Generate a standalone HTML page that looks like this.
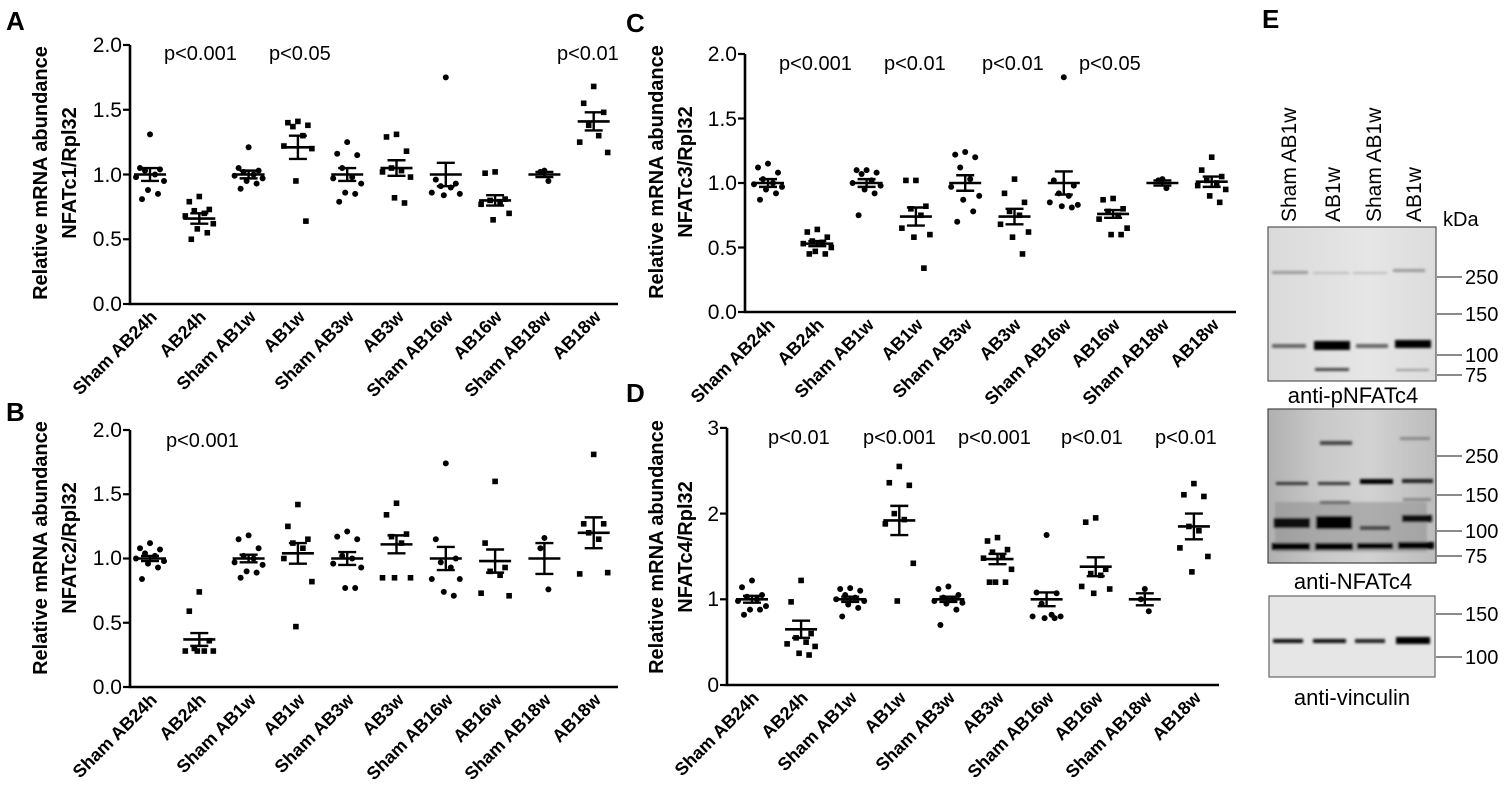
<!DOCTYPE html>
<html><head><meta charset="utf-8">
<style>
html,body{margin:0;padding:0;background:#fff;}
svg{display:block;}
text{font-family:"Liberation Sans",Arial,sans-serif;fill:#000;}
.pl{font-size:26px;font-weight:bold;}
.yl{font-size:20px;font-weight:bold;}
.tk{font-size:21px;}
.xl{font-size:18px;font-weight:bold;}
.pv{font-size:20px;}
.bl{font-size:21px;}
.mk{font-size:20px;}
.cap{font-size:22px;}
</style></head>
<body>
<svg id="s" width="1505" height="791" viewBox="0 0 1505 791" xmlns="http://www.w3.org/2000/svg">
<defs>
<filter id="bf" x="-10%" y="-200%" width="120%" height="500%"><feGaussianBlur stdDeviation="1.3"/></filter>
<linearGradient id="g2" x1="0" y1="0" x2="1" y2="0">
<stop offset="0" stop-color="#b0b0b0"/><stop offset="0.3" stop-color="#c8c8c8"/><stop offset="0.6" stop-color="#d2d2d2"/><stop offset="1" stop-color="#bcbcbc"/></linearGradient>
<linearGradient id="g1" x1="0" y1="0" x2="1" y2="0">
<stop offset="0" stop-color="#dadada"/><stop offset="0.6" stop-color="#e6e6e6"/><stop offset="1" stop-color="#dcdcdc"/></linearGradient>
</defs>
<g id="plots"></g>

<text class="pl" x="6" y="30">A</text>
<text class="pl" x="6" y="421">B</text>
<text class="pl" x="626" y="32">C</text>
<text class="pl" x="626" y="402">D</text>
<text class="pl" x="1262" y="28">E</text>

<g transform="translate(47,173) rotate(-90)"><text class="yl" text-anchor="middle" x="0" y="0">Relative mRNA abundance</text><text class="yl" text-anchor="middle" x="0" y="29">NFATc1/Rpl32</text></g>
<g transform="translate(47,548) rotate(-90)"><text class="yl" text-anchor="middle" x="0" y="0">Relative mRNA abundance</text><text class="yl" text-anchor="middle" x="0" y="29">NFATc2/Rpl32</text></g>
<g transform="translate(663,172) rotate(-90)"><text class="yl" text-anchor="middle" x="0" y="0">Relative mRNA abundance</text><text class="yl" text-anchor="middle" x="0" y="29">NFATc3/Rpl32</text></g>
<g transform="translate(663,547) rotate(-90)"><text class="yl" text-anchor="middle" x="0" y="0">Relative mRNA abundance</text><text class="yl" text-anchor="middle" x="0" y="29">NFATc4/Rpl32</text></g>

<g class="tk" text-anchor="end">
<text x="122" y="52">2.0</text><text x="122" y="117">1.5</text><text x="122" y="182">1.0</text><text x="122" y="246">0.5</text><text x="122" y="311">0.0</text>
<text x="122" y="437">2.0</text><text x="122" y="501">1.5</text><text x="122" y="565">1.0</text><text x="122" y="630">0.5</text><text x="122" y="694">0.0</text>
<text x="737" y="61">2.0</text><text x="737" y="126">1.5</text><text x="737" y="190">1.0</text><text x="737" y="255">0.5</text><text x="737" y="319">0.0</text>
<text x="719" y="435">3</text><text x="719" y="521">2</text><text x="719" y="606">1</text><text x="719" y="692">0</text>
</g>

<g class="pv">
<text x="164" y="60">p&lt;0.001</text><text x="269" y="60">p&lt;0.05</text><text x="557" y="60">p&lt;0.01</text>
<text x="166" y="447">p&lt;0.001</text>
<text x="779" y="70">p&lt;0.001</text><text x="884" y="70">p&lt;0.01</text><text x="982" y="70">p&lt;0.01</text><text x="1079" y="70">p&lt;0.05</text>
<text x="768" y="444">p&lt;0.01</text><text x="863" y="444">p&lt;0.001</text><text x="958" y="444">p&lt;0.001</text><text x="1061" y="444">p&lt;0.01</text><text x="1155" y="444">p&lt;0.01</text>
</g>

<g class="xl" text-anchor="end">
<text transform="translate(158,318) rotate(-45)">Sham AB24h</text>
<text transform="translate(207,318) rotate(-45)">AB24h</text>
<text transform="translate(257,318) rotate(-45)">Sham AB1w</text>
<text transform="translate(306,318) rotate(-45)">AB1w</text>
<text transform="translate(355,318) rotate(-45)">Sham AB3w</text>
<text transform="translate(405,318) rotate(-45)">AB3w</text>
<text transform="translate(454,318) rotate(-45)">Sham AB16w</text>
<text transform="translate(503,318) rotate(-45)">AB16w</text>
<text transform="translate(552,318) rotate(-45)">Sham AB18w</text>
<text transform="translate(602,318) rotate(-45)">AB18w</text>

<text transform="translate(158,701) rotate(-45)">Sham AB24h</text>
<text transform="translate(207,701) rotate(-45)">AB24h</text>
<text transform="translate(257,701) rotate(-45)">Sham AB1w</text>
<text transform="translate(306,701) rotate(-45)">AB1w</text>
<text transform="translate(355,701) rotate(-45)">Sham AB3w</text>
<text transform="translate(405,701) rotate(-45)">AB3w</text>
<text transform="translate(454,701) rotate(-45)">Sham AB16w</text>
<text transform="translate(503,701) rotate(-45)">AB16w</text>
<text transform="translate(552,701) rotate(-45)">Sham AB18w</text>
<text transform="translate(602,701) rotate(-45)">AB18w</text>

<text transform="translate(776,326) rotate(-45)">Sham AB24h</text>
<text transform="translate(825,326) rotate(-45)">AB24h</text>
<text transform="translate(875,326) rotate(-45)">Sham AB1w</text>
<text transform="translate(924,326) rotate(-45)">AB1w</text>
<text transform="translate(973,326) rotate(-45)">Sham AB3w</text>
<text transform="translate(1022,326) rotate(-45)">AB3w</text>
<text transform="translate(1072,326) rotate(-45)">Sham AB16w</text>
<text transform="translate(1121,326) rotate(-45)">AB16w</text>
<text transform="translate(1170,326) rotate(-45)">Sham AB18w</text>
<text transform="translate(1220,326) rotate(-45)">AB18w</text>

<text transform="translate(760,699) rotate(-45)">Sham AB24h</text>
<text transform="translate(809,699) rotate(-45)">AB24h</text>
<text transform="translate(858,699) rotate(-45)">Sham AB1w</text>
<text transform="translate(907,699) rotate(-45)">AB1w</text>
<text transform="translate(956,699) rotate(-45)">Sham AB3w</text>
<text transform="translate(1005,699) rotate(-45)">AB3w</text>
<text transform="translate(1055,699) rotate(-45)">Sham AB16w</text>
<text transform="translate(1104,699) rotate(-45)">AB16w</text>
<text transform="translate(1153,699) rotate(-45)">Sham AB18w</text>
<text transform="translate(1202,699) rotate(-45)">AB18w</text>
</g>

<g class="bl">
<text transform="translate(1296,222) rotate(-90)">Sham AB1w</text>
<text transform="translate(1340,222) rotate(-90)">AB1w</text>
<text transform="translate(1381,222) rotate(-90)">Sham AB1w</text>
<text transform="translate(1421,222) rotate(-90)">AB1w</text>
</g>
<text class="mk" x="1443" y="226">kDa</text>

<rect x="1268" y="227" width="168" height="154" fill="url(#g1)" stroke="#555" stroke-width="1.2"/>
<g filter="url(#bf)">
<rect x="1272" y="271" width="36" height="3" fill="#999"/>
<rect x="1313" y="272" width="36" height="2" fill="#bbb"/>
<rect x="1353" y="272" width="34" height="2" fill="#bbb"/>
<rect x="1393" y="269" width="32" height="3" fill="#999"/>
<rect x="1272" y="344" width="34" height="4" fill="#666"/>
<rect x="1314" y="341" width="36" height="9" fill="#000"/>
<rect x="1356" y="344" width="32" height="4" fill="#666"/>
<rect x="1395" y="340" width="36" height="8" fill="#000"/>
<rect x="1315" y="368" width="34" height="3" fill="#444"/>
<rect x="1396" y="369" width="33" height="2" fill="#999"/>
</g>
<g stroke="#444" stroke-width="1.2">
<line x1="1437" y1="277" x2="1462" y2="277"/><line x1="1437" y1="314" x2="1462" y2="314"/>
<line x1="1437" y1="355" x2="1462" y2="355"/><line x1="1437" y1="375" x2="1462" y2="375"/>
</g>
<g class="mk"><text x="1465" y="284">250</text><text x="1465" y="321">150</text><text x="1465" y="362">100</text><text x="1465" y="382">75</text></g>
<text class="cap" x="1353" y="403" text-anchor="middle">anti-pNFATc4</text>

<rect x="1268" y="409" width="168" height="154" fill="url(#g2)" stroke="#444" stroke-width="1.2"/>
<g filter="url(#bf)">
<rect x="1275" y="502" width="152" height="50" fill="#8a8a8a" opacity="0.5"/>
<rect x="1320" y="441" width="32" height="4" fill="#444"/>
<rect x="1400" y="437" width="30" height="3" fill="#888"/>
<rect x="1276" y="482" width="32" height="3" fill="#333"/>
<rect x="1318" y="482" width="32" height="3" fill="#333"/>
<rect x="1360" y="479" width="33" height="5" fill="#000"/>
<rect x="1402" y="479" width="31" height="4" fill="#222"/>
<rect x="1320" y="501" width="30" height="3" fill="#666"/>
<rect x="1403" y="498" width="28" height="3" fill="#888"/>
<rect x="1274" y="518" width="36" height="10" fill="#111"/>
<rect x="1316" y="516" width="36" height="13" fill="#000"/>
<rect x="1402" y="515" width="30" height="7" fill="#111"/>
<rect x="1360" y="526" width="30" height="4" fill="#444"/>
<rect x="1272" y="543" width="38" height="7" fill="#000"/>
<rect x="1315" y="543" width="38" height="7" fill="#000"/>
<rect x="1357" y="543" width="36" height="6" fill="#000"/>
<rect x="1398" y="542" width="36" height="7" fill="#000"/>
</g>
<g stroke="#444" stroke-width="1.2">
<line x1="1437" y1="456" x2="1462" y2="456"/><line x1="1437" y1="495" x2="1462" y2="495"/>
<line x1="1437" y1="531" x2="1462" y2="531"/><line x1="1437" y1="556" x2="1462" y2="556"/>
</g>
<g class="mk"><text x="1465" y="463">250</text><text x="1465" y="502">150</text><text x="1465" y="538">100</text><text x="1465" y="563">75</text></g>
<text class="cap" x="1353" y="589" text-anchor="middle">anti-NFATc4</text>

<rect x="1269" y="596" width="166" height="81" fill="#e6e6e6" stroke="#666" stroke-width="1.2"/>
<g filter="url(#bf)">
<rect x="1273" y="639" width="30" height="4" fill="#111"/>
<rect x="1313" y="639" width="33" height="4" fill="#111"/>
<rect x="1355" y="639" width="30" height="4" fill="#222"/>
<rect x="1396" y="637" width="34" height="7" fill="#000"/>
</g>
<g stroke="#444" stroke-width="1.2">
<line x1="1436" y1="614" x2="1462" y2="614"/><line x1="1436" y1="657" x2="1462" y2="657"/>
</g>
<g class="mk"><text x="1465" y="621">150</text><text x="1465" y="664">100</text></g>
<text class="cap" x="1352" y="705" text-anchor="middle">anti-vinculin</text>
</svg>

<script>
(function(){
var NS="http://www.w3.org/2000/svg";
var G=document.getElementById("plots");
function el(t,a){var e=document.createElementNS(NS,t);for(var k in a)e.setAttribute(k,a[k]);G.appendChild(e);return e;}
var panels=[
 {ax:130,y0:304,ppu:129.5,x0:150,dx:49.3,end:618,ticks:[0,0.5,1,1.5,2],
  d:[[1,.05,[1.31,1.05,1.04,1.03,1.0,.98,.95,.88,.85,.81]],
     [.66,.04,[.83,.79,.73,.72,.70,.68,.62,.58,.55,.50]],
     [1,.03,[1.21,1.05,1.03,1.02,1.0,.99,.97,.95,.93,.89]],
     [1.21,.09,[1.41,1.40,1.38,1.37,1.30,1.22,1.20,.95,.64]],
     [1,.05,[1.25,1.16,1.15,1.05,.98,.97,.93,.86,.85,.79]],
     [1.05,.06,[1.31,1.29,1.18,1.05,1.03,1.02,.98,.82,.78]],
     [1,.09,[1.75,.96,.93,.91,.90,.86,.85,.84]],
     [.80,.04,[1.02,1.01,.81,.80,.79,.77,.70,.65]],
     [1,.02,[1.03,1.02,.95]],
     [1.41,.07,[1.68,1.55,1.48,1.38,1.30,1.25,1.17]]]},
 {ax:130,y0:687,ppu:128.5,x0:150,dx:49.3,end:618,ticks:[0,0.5,1,1.5,2],
  d:[[1,.02,[1.12,1.08,1.07,1.04,1.02,1.0,.98,.96,.93,.84]],
     [.37,.05,[.74,.59,.36,.30,.28,.28,.28,.28]],
     [1,.03,[1.18,1.15,1.08,1.02,1.0,.97,.95,.90,.89,.85]],
     [1.04,.08,[1.42,1.25,1.15,1.12,1.08,1.0,.82,.47]],
     [1,.05,[1.21,1.17,1.15,1.02,1.0,.96,.93,.77,.77]],
     [1.11,.07,[1.43,1.34,1.19,1.17,1.12,.85,.85,.85]],
     [1,.09,[1.74,1.15,1.0,.97,.93,.84,.84,.74,.71]],
     [.98,.09,[1.60,1.12,.93,.90,.87,.73,.71]],
     [1,.12,[1.16,1.08,.76]],
     [1.2,.12,[1.81,1.27,1.27,1.2,1.15,.88,.89]]]},
 {ax:745,y0:312,ppu:129,x0:768,dx:49.3,end:1236,ticks:[0,0.5,1,1.5,2],
  d:[[1,.03,[1.15,1.12,1.08,1.03,1.0,.99,.97,.95,.92,.87]],
     [.53,.02,[.64,.62,.58,.55,.54,.53,.50,.47,.45,.45]],
     [1,.03,[1.1,1.1,1.08,1.07,1.02,1.0,.98,.95,.92,.75]],
     [.74,.07,[1.02,1.02,.82,.80,.75,.65,.60,.58,.34]],
     [1,.06,[1.24,1.22,1.2,1.12,1.03,.97,.9,.87,.78,.70]],
     [.74,.06,[1.03,.92,.85,.78,.75,.68,.62,.58,.45]],
     [1,.09,[1.82,1.02,.98,.92,.90,.85,.83,.82,.81]],
     [.76,.03,[.88,.87,.80,.78,.75,.72,.65,.60,.60]],
     [1,.02,[1.03,1.02,.96]],
     [1.01,.04,[1.2,1.1,1.05,1.02,1.0,.98,.95,.9,.85]]]},
 {ax:727,y0:685,ppu:85.7,x0:752,dx:49.1,end:1219,ticks:[0,1,2,3],
  d:[[1,.04,[1.22,1.14,1.05,1.03,1.0,.98,.92,.88,.88,.82]],
     [.65,.1,[1.22,.97,.6,.55,.5,.48,.45,.37,.35]],
     [1,.03,[1.13,1.12,1.1,1.05,1.02,1.0,.98,.94,.9,.8]],
     [1.92,.17,[2.55,2.36,2.33,2.0,1.93,1.88,1.42,.98]],
     [1,.03,[1.15,1.12,1.05,1.02,1.0,.98,.96,.95,.88,.70]],
     [1.47,.06,[1.72,1.68,1.58,1.55,1.50,1.48,1.35,1.20,1.20,1.20]],
     [1,.08,[1.75,1.08,1.07,.95,.82,.80,.80,.78,.78]],
     [1.38,.11,[1.95,1.90,1.35,1.30,1.28,1.15,1.12,1.07]],
     [1,.07,[1.12,1.0,.86]],
     [1.85,.15,[2.35,2.22,2.2,1.85,1.8,1.6,1.5,1.32]]]}
];
var jit=[0,-10,10,-5,5,-14,14,-2,8,-8];
panels.forEach(function(p){
  var Y=function(v){return p.y0-v*p.ppu;};
  var top=Y(p.ticks[p.ticks.length-1]);
  el("path",{d:"M"+p.ax+","+top+"V"+p.y0+"H"+p.end,stroke:"#000","stroke-width":2.6,fill:"none"});
  p.ticks.forEach(function(t){el("line",{x1:p.ax-7,x2:p.ax,y1:Y(t),y2:Y(t),stroke:"#000","stroke-width":2.2});});
  p.d.forEach(function(g,i){
    var cx=p.x0+i*p.dx, sq=(i%2==1);
    g[2].forEach(function(v,j){
      var x=cx+jit[j%jit.length]*(g[2].length<=3?0.4:1), y=Y(v);
      if(sq) el("rect",{x:x-2.8,y:y-2.8,width:5.6,height:5.6,fill:"#000"});
      else el("circle",{cx:x,cy:y,r:3,fill:"#000"});
    });
    var m=Y(g[0]),hi=Y(g[0]+g[1]),lo=Y(g[0]-g[1]);
    el("line",{x1:cx-16,x2:cx+16,y1:m,y2:m,stroke:"#000","stroke-width":2.6});
    el("line",{x1:cx,x2:cx,y1:hi,y2:lo,stroke:"#000","stroke-width":2.4});
    el("line",{x1:cx-9,x2:cx+9,y1:hi,y2:hi,stroke:"#000","stroke-width":2.4});
    el("line",{x1:cx-9,x2:cx+9,y1:lo,y2:lo,stroke:"#000","stroke-width":2.4});
  });
});
})();
</script>
</body></html>
